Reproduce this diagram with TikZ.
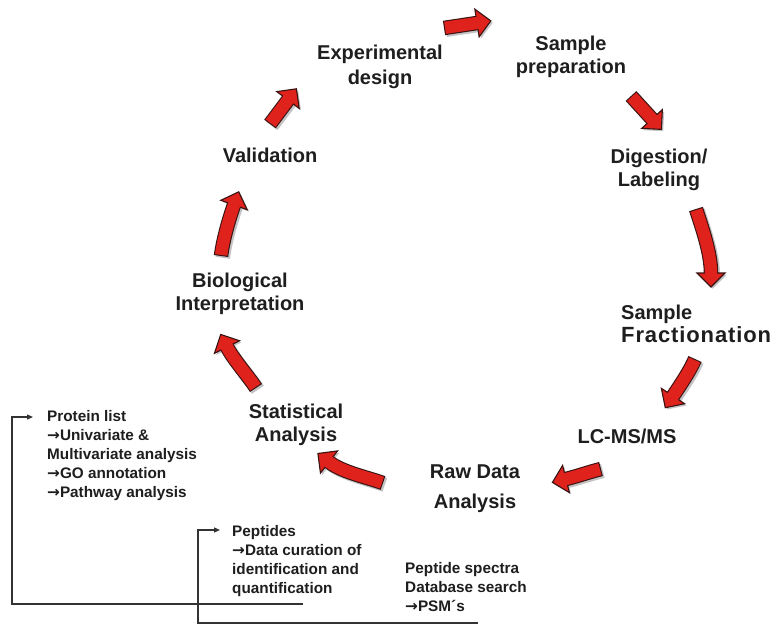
\documentclass[tikz,border=0pt]{standalone}
\usepackage{fontspec}
\setmainfont{Liberation Sans}
\newfontfamily\arrfont{DejaVu Sans}
\newcommand\rarw{{\arrfont →}}
\usetikzlibrary{calc,arrows.meta}
\definecolor{arrred}{HTML}{E0221C}
\definecolor{arrline}{HTML}{3A1212}
\definecolor{arrshadow}{HTML}{C4C4C4}
\definecolor{txt}{HTML}{1E1E1E}
\definecolor{conncol}{HTML}{333333}
% #1 tail, #2 control 1, #3 control 2, #4 base of head
\newcommand\redarr[4]{%
  \path (#4) coordinate (ra-b)
    ($(#4)!-14pt!(#3)$) coordinate (ra-t)
    ($(#4)!14pt!90:(#3)$) coordinate (ra-l)
    ($(#4)!14pt!-90:(#3)$) coordinate (ra-r)
    ($(#4)!-1.5pt!(#3)$) coordinate (ra-e);
  \begin{scope}[shift={(1.8,1.8)}]
    \draw[line width=14.5pt, arrshadow] (#1) .. controls (#2) and (#3) .. (#4);
  \end{scope}
  \fill[arrshadow] ($(ra-l)+(1.8,1.8)$) -- ($(ra-t)+(1.8,1.8)$) -- ($(ra-r)+(1.8,1.8)$) -- cycle;
  \draw[line width=14.5pt, arrline] (#1) .. controls (#2) and (#3) .. (ra-b);
  \filldraw[fill=arrred, draw=arrline, line width=1.1pt, line join=miter] (ra-l) -- (ra-t) -- (ra-r) -- cycle;
  \draw[line width=12.3pt, arrred, shorten <=1.1pt] (#1) .. controls (#2) and (#3) .. (ra-b) -- (ra-e);
}
\tikzset{
  big/.style={font=\fontsize{20}{23}\selectfont\bfseries, text=txt, align=center, inner sep=0pt},
  small/.style={font=\fontsize{15.3}{19}\selectfont\bfseries, text=txt, align=left, inner sep=0pt, anchor=north west},
  conn/.style={draw=conncol, line width=1.2pt, -{Triangle[length=6pt,width=5pt]}}
}
\begin{document}
\begin{tikzpicture}[x=1pt, y=-1pt]
\useasboundingbox[fill=white] (0,0) rectangle (784,625);

% cycle labels
\node[big] (exp)  at (380,67) {Experimental\\[2pt]design};
\node[big] (samp) at (571,57) {Sample\\preparation};
\node[big] (dig)  at (659,170) {Digestion/\\Labeling};
\node[big, align=left, anchor=west] (frac) at (621,324) {Sample\\{\fontsize{22}{23}\selectfont\addfontfeature{LetterSpace=4}Fractionation}};
\node[big] (lc)   at (627,436) {LC-MS/MS};
\node[big] (raw)  at (475,489) {Raw Data\\[7pt]Analysis};
\node[big] (stat) at (296,425) {Statistical\\Analysis};
\node[big] (bio)  at (240,294) {Biological\\Interpretation};
\node[big] (val)  at (270,155) {Validation};

% red cycle arrows
\redarr{444,28}{455,26.3}{466,24.7}{477,23}
\redarr{631,96}{638,103.7}{645,111.3}{652,119}
\redarr{696,209}{701,225}{711,252}{711,273}
\redarr{695,359}{690,371}{679.6,386}{673,396}
\redarr{601,469}{589,472}{578,476}{566,479}
\redarr{383,483}{366,477}{342,472}{329,462}
\redarr{256,388}{249,377}{233,359}{227,347}
\redarr{221,256}{223,240}{229,219}{234,205}
\redarr{270,124}{276,116}{282,108}{288,100}

% side notes
\node[small] (prot) at (47,410) {Protein list\\\rarw Univariate \&\\Multivariate analysis\\\rarw GO annotation\\\rarw Pathway analysis};
\node[small] (pep)  at (232,525) {Peptides\\\rarw Data curation of\\identification and\\quantification};
\node[small] (spec) at (405,562) {Peptide spectra\\Database search\\\rarw PSM´s};

% connectors
\coordinate (l1s) at (303,604);
\coordinate (l1a) at (12,604);
\draw[conn] (l1s) -- (l1a) |- ([xshift=-14pt,yshift=-7pt]prot.north west);
\coordinate (l2s) at (478,623);
\coordinate (l2a) at (198,623);
\draw[conn] (l2s) -- (l2a) |- ([xshift=-12pt,yshift=-5pt]pep.north west);
\end{tikzpicture}
\end{document}
